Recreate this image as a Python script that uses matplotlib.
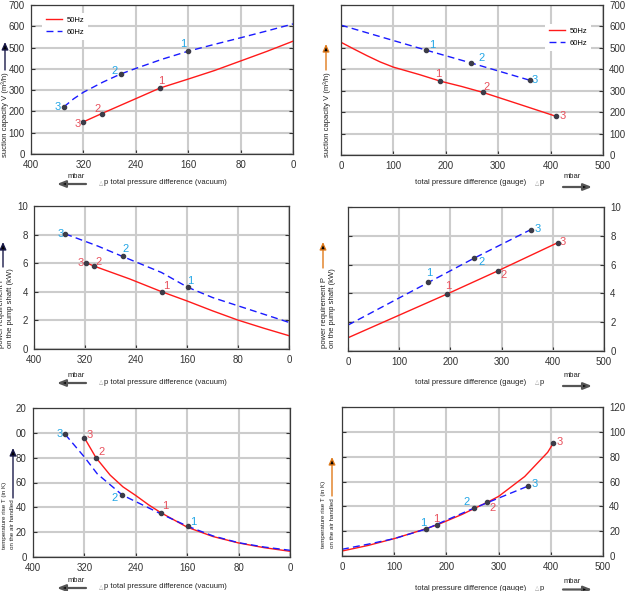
import matplotlib
matplotlib.use('Agg')
import matplotlib.pyplot as plt

plt.rcParams['font.family'] = ['Liberation Sans', 'DejaVu Sans']

# ── data ──
# suction capacity V (m³/h) vs vacuum (mbar)
vacV50_x = [320, 292, 240, 203, 160, 120, 80, 40, 0]
vacV50_y = [151, 190, 260, 310, 352, 392, 437, 482, 530]
vacV50_px = [203, 292, 320]
vacV50_py = [310, 190, 151]
vacV60_x = [350, 335, 320, 290, 263, 240, 200, 160, 120, 80, 40, 0]
vacV60_y = [221, 259, 290, 338, 376, 402, 445, 483, 515, 546, 578, 611]
vacV60_px = [160, 263, 350]
vacV60_py = [483, 376, 221]

# suction capacity V (m³/h) vs gauge (mbar)
gaV50_x = [0, 25, 50, 75, 100, 150, 189, 230, 271, 340, 411]
gaV50_y = [526, 494, 463, 434, 410, 375, 345, 320, 292, 237, 180]
gaV50_px = [189, 271, 411]
gaV50_py = [345, 292, 180]
gaV60_x = [0, 163, 249, 360]
gaV60_y = [606, 489, 429, 349]
gaV60_px = [163, 249, 360]
gaV60_py = [489, 429, 349]

# power requirement P (kW) vs vacuum
vacP50_x = [318, 306, 250, 200, 160, 120, 80, 40, 0]
vacP50_y = [6.03, 5.80, 4.90, 4.01, 3.36, 2.67, 2.02, 1.46, 0.93]
vacP50_px = [200, 306, 318]
vacP50_py = [4.01, 5.80, 6.03]
vacP60_x = [351, 300, 261, 200, 159, 120, 80, 40, 0]
vacP60_y = [8.05, 7.20, 6.47, 5.35, 4.32, 3.60, 3.02, 2.44, 1.86]
vacP60_px = [159, 261, 351]
vacP60_py = [4.32, 6.47, 8.05]

# power requirement P (kW) vs gauge
gaP50_x = [0, 193, 293, 410]
gaP50_y = [0.92, 3.95, 5.57, 7.53]
gaP50_px = [193, 293, 410]
gaP50_py = [3.95, 5.57, 7.53]
gaP60_x = [0, 157, 246, 357]
gaP60_y = [1.80, 4.76, 6.44, 8.43]
gaP60_px = [157, 246, 357]
gaP60_py = [4.76, 6.44, 8.43]

# temperature rise T (K) vs vacuum
vacT50_x = [320, 302, 280, 260, 240, 220, 201, 160, 120, 80, 40, 0]
vacT50_y = [96, 80, 66, 56.5, 49.5, 42, 35.7, 24, 16.5, 11.3, 7.5, 4.6]
vacT50_px = [201, 302, 320]
vacT50_py = [35.7, 80, 96]
vacT60_x = [350, 320, 300, 261, 200, 159, 120, 80, 40, 0]
vacT60_y = [98.8, 80.5, 67, 49.9, 34.5, 24.7, 17, 11.5, 8, 5.4]
vacT60_px = [159, 261, 350]
vacT60_py = [24.7, 49.9, 98.8]

# temperature rise T (K) vs gauge
gaT50_x = [0, 50, 100, 150, 182, 230, 278, 300, 350, 394, 405]
gaT50_y = [4, 8.5, 14, 20.5, 25, 33.5, 43.2, 48, 64, 83.5, 91]
gaT50_px = [182, 278, 405]
gaT50_py = [25, 43.2, 91]
gaT60_x = [0, 50, 100, 161, 252, 357]
gaT60_y = [5.4, 9.5, 14, 21.7, 38.4, 56.4]
gaT60_px = [161, 252, 357]
gaT60_py = [21.7, 38.4, 56.4]

point_labels = ['1', '2', '3']
vac_ticks = [400, 320, 240, 160, 80, 0]
gauge_ticks = [0, 100, 200, 300, 400, 500]
V_ticks = [0, 100, 200, 300, 400, 500, 600, 700]
P_ticks = [0, 2, 4, 6, 8, 10]
T_ticks = [0, 20, 40, 60, 80, 100, 120]
T_ticklabels_left = ['0', '20', '40', '60', '80', '00', '20']

RED = '#ff1a1a'
BLUE = '#1a1aff'
RED_LBL = '#e8505c'
BLUE_LBL = '#22a6e6'
DOT = '#3c3c48'

W, H = 628, 591
fig = plt.figure(figsize=(W / 100, H / 100), dpi=100)
fig.patch.set_facecolor('white')


def panel(box, side, xlim, xticks, ylim, yticks, c50, c60, p50, p60, off50, off60,
          yticklabels=None, legend_anchor=None):
    l, t, r, b = box
    ax = fig.add_axes([l / W, 1 - b / H, (r - l) / W, (b - t) / H])
    ax.set_xlim(*xlim)
    ax.set_ylim(*ylim)
    ax.set_xticks(xticks)
    ax.set_yticks(yticks)
    if yticklabels is not None:
        ax.set_yticklabels(yticklabels)
    ax.grid(True, color='#cccccc', linewidth=1.5)
    ax.set_axisbelow(True)
    for sp in ax.spines.values():
        sp.set_color('#3a3a3a')
        sp.set_linewidth(0.9)
    ax.tick_params(direction='in', length=3, width=0.8, labelsize=7,
                   colors='#333333', pad=4.5)
    if side == 'right':
        ax.yaxis.tick_right()
    ax.tick_params(axis='y', left=True, right=True)

    ax.plot(c50[0], c50[1], color=RED, linewidth=1.0, label='50Hz')
    ax.plot(c60[0], c60[1], color=BLUE, linewidth=1.0, dashes=(5, 3), label='60Hz')
    for (px, py), off, col in ((p50, off50, RED_LBL), (p60, off60, BLUE_LBL)):
        ax.plot(px, py, 'o', color=DOT, markersize=3.0, zorder=5)
        for x, y, lbl, (dx, dy) in zip(px, py, point_labels, off):
            ax.annotate(lbl, (x, y), xytext=(dx, dy), textcoords='offset pixels',
                        ha='center', va='center', fontsize=8, color=col)
    if legend_anchor is not None:
        leg = ax.legend(loc='upper left', bbox_to_anchor=legend_anchor,
                        bbox_transform=fig.transFigure, fontsize=5.5, frameon=True,
                        handlelength=2.2, handletextpad=0.5, labelspacing=0.6,
                        borderpad=0.5, framealpha=1)
        leg.get_frame().set_edgecolor('white')
        leg.get_frame().set_linewidth(0)
    return ax


# ── panels ──
panel((31, 5, 293, 154), 'left', (400, 0), vac_ticks, (0, 700), V_ticks,
      (vacV50_x, vacV50_y), (vacV60_x, vacV60_y),
      (vacV50_px, vacV50_py), (vacV60_px, vacV60_py),
      [(1, 7), (-4, 5), (-6, -2)], [(-5, 7), (-6, 3), (-6, 0)],
      legend_anchor=(38 / W, 1 - 9 / H))
panel((341, 5, 603, 155), 'right', (0, 500), gauge_ticks, (0, 700), V_ticks,
      (gaV50_x, gaV50_y), (gaV60_x, gaV60_y),
      (gaV50_px, gaV50_py), (gaV60_px, gaV60_py),
      [(-2, 7), (4, 5), (6, 0)], [(6, 5), (10, 5), (5, 0)],
      legend_anchor=(541 / W, 1 - 20 / H))
panel((34, 206, 289, 349), 'left', (400, 0), vac_ticks, (0, 10), P_ticks,
      (vacP50_x, vacP50_y), (vacP60_x, vacP60_y),
      (vacP50_px, vacP50_py), (vacP60_px, vacP60_py),
      [(5, 6), (5, 4), (-6, 0)], [(3, 6), (3, 7), (-5, 0)])
panel((348, 207, 604, 351), 'right', (0, 500), gauge_ticks, (0, 10), P_ticks,
      (gaP50_x, gaP50_y), (gaP60_x, gaP60_y),
      (gaP50_px, gaP50_py), (gaP60_px, gaP60_py),
      [(1, 8), (6, -4), (5, 1)], [(1, 9), (8, -4), (7, 1)])
panel((33, 408, 290, 557), 'left', (400, 0), vac_ticks, (0, 120), T_ticks,
      (vacT50_x, vacT50_y), (vacT60_x, vacT60_y),
      (vacT50_px, vacT50_py), (vacT60_px, vacT60_py),
      [(4, 7), (6, 6), (5, 3)], [(5, 4), (-8, -3), (-5, 0)],
      yticklabels=T_ticklabels_left)
panel((342, 407, 603, 556), 'right', (0, 500), gauge_ticks, (0, 120), T_ticks,
      (gaT50_x, gaT50_y), (gaT60_x, gaT60_y),
      (gaT50_px, gaT50_py), (gaT60_px, gaT60_py),
      [(-1, 6), (5, -6), (6, 1)], [(-3, 6), (-7, 6), (6, 2)])

# ── overlay in pixel coordinates (y downwards) for axis captions and arrows ──
ov = fig.add_axes([0, 0, 1, 1], zorder=10)
ov.set_xlim(0, W)
ov.set_ylim(H, 0)
ov.axis('off')

TXT = '#222222'
ORANGE = '#e07a1a'
NAVY = '#1a1a4a'


def arrow(x0, y0, x1, y1, ec, fc, lw=1.0, hl=0.45, hw=0.2):
    ov.annotate('', xy=(x1, y1), xytext=(x0, y0),
                arrowprops=dict(arrowstyle=f'-|>,head_length={hl},head_width={hw}',
                                ec=ec, fc=fc, lw=lw, shrinkA=0, shrinkB=0))


def xcaption(side, y, dy_arrow=4):
    if side == 'left':
        ov.text(85, y - 3, 'mbar', fontsize=5.5, color=TXT, ha='right', va='bottom')
        arrow(86, y + 1, 57, y + 1, '#555555', 'black', lw=1.6, hl=0.5, hw=0.2)
        ov.text(101, y, '△', fontsize=4, color='#999999', ha='center', va='center')
        ov.text(104, y, 'p total pressure difference (vacuum)', fontsize=5.5,
                color=TXT, ha='left', va='center')
    else:
        ov.text(415, y, 'total pressure difference (gauge)', fontsize=5.5,
                color=TXT, ha='left', va='center')
        ov.text(537, y, '△', fontsize=4, color='#999999', ha='center', va='center')
        ov.text(540, y, 'p', fontsize=5.5, color=TXT, ha='left', va='center')
        ov.text(564, y - 3, 'mbar', fontsize=5.5, color=TXT, ha='left', va='bottom')
        arrow(563, y + dy_arrow, 592, y + dy_arrow, '#555555', 'black',
              lw=1.6, hl=0.5, hw=0.2)


xcaption('left', 183)
xcaption('right', 183)
xcaption('left', 382)
xcaption('right', 382)
xcaption('left', 587)
xcaption('right', 588, dy_arrow=1.5)

# y captions
ov.text(5, 157, 'suction capacity V (m³/h)', rotation=90, fontsize=5.5, color=TXT,
        ha='center', va='bottom')
arrow(5, 70, 5, 42, NAVY, 'black')
ov.text(327, 157, 'suction capacity V (m³/h)', rotation=90, fontsize=5.5, color=TXT,
        ha='center', va='bottom')
arrow(326, 70, 326, 44, ORANGE, 'black')

ov.text(2, 348, 'power requirement P', rotation=90, fontsize=5.5, color=TXT,
        ha='center', va='bottom')
ov.text(11, 348, 'on the pump shaft (kW)', rotation=90, fontsize=5.5, color=TXT,
        ha='center', va='bottom')
arrow(3, 267, 3, 242, NAVY, 'black')
ov.text(324, 348, 'power requirement P', rotation=90, fontsize=5.5, color=TXT,
        ha='center', va='bottom')
ov.text(333, 348, 'on the pump shaft (kW)', rotation=90, fontsize=5.5, color=TXT,
        ha='center', va='bottom')
arrow(323, 268, 323, 242, ORANGE, 'black')

ov.text(5, 549, 'temperature rise T (in K)', rotation=90, fontsize=4.5, color=TXT,
        ha='center', va='bottom')
ov.text(13, 549, 'on the air handled', rotation=90, fontsize=4.5, color=TXT,
        ha='center', va='bottom')
arrow(13, 498, 13, 448, NAVY, 'black')
ov.text(323, 548, 'temperature rise T (in K)', rotation=90, fontsize=4.5, color=TXT,
        ha='center', va='bottom')
ov.text(332, 548, 'on the air handled', rotation=90, fontsize=4.5, color=TXT,
        ha='center', va='bottom')
arrow(332, 496, 332, 457, ORANGE, 'black')

fig.savefig('out.png', dpi=100)
